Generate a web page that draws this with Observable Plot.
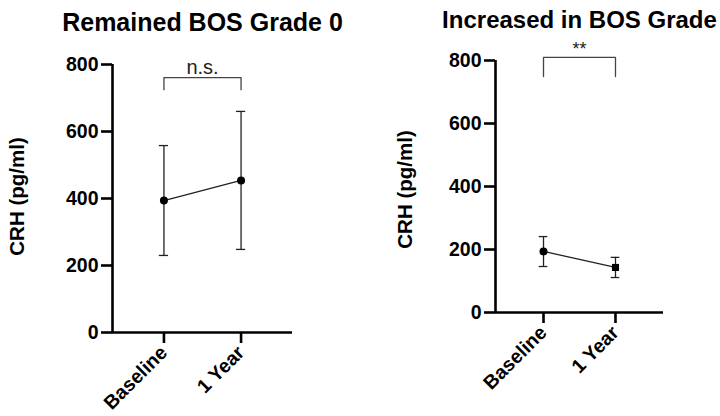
<!DOCTYPE html>
<html>
<head>
<meta charset="utf-8">
<script src="https://cdn.jsdelivr.net/npm/d3@7"></script>
<script src="https://cdn.jsdelivr.net/npm/@observablehq/plot@0.6"></script>
<style>
  html, body { margin: 0; padding: 0; background: #fff; }
  #wrap { position: relative; width: 720px; height: 416px; overflow: hidden; }
  .panel { position: absolute; top: 0; }
</style>
</head>
<body>
<div id="wrap">
  <div class="panel" id="left" style="left:0"></div>
  <div class="panel" id="right" style="left:360px"></div>
</div>
<script>
const categories = ["Baseline", "1 Year"];
const yTicks = [0, 200, 400, 600, 800];

const leftTitle = "Remained BOS Grade 0";
const leftMean = [394, 454];
const leftUpper = [558, 660];
const leftLower = [230, 248];
const leftSig = "n.s.";

const rightTitle = "Increased in BOS Grade";
const rightMean = [194, 143];
const rightUpper = [241, 175];
const rightLower = [146, 111];
const rightSig = "**";

const yLabel = "CRH (pg/ml)";
const FONT = "'Liberation Sans', Arial, Helvetica, sans-serif";

function panel(opts) {
  const rows = categories.map((c, i) => ({
    i, cat: c, mean: opts.mean[i], lo: opts.lower[i], hi: opts.upper[i]
  }));
  const pad = 0.667;
  const xDomain = [-pad, categories.length - 1 + pad];
  const cap = 0.06;
  const br = opts.bracket; // [legBottom, top, textY]
  const bracketPts = [
    {i: 0, y: br[0]}, {i: 0, y: br[1]},
    {i: categories.length - 1, y: br[1]}, {i: categories.length - 1, y: br[0]}
  ];
  return Plot.plot({
    width: 360,
    height: 416,
    marginLeft: opts.ml,
    marginRight: opts.mr,
    marginTop: opts.mt,
    marginBottom: opts.mb,
    style: {fontFamily: FONT, fontWeight: "bold", color: "#000", background: "#fff", overflow: "visible"},
    x: {type: "linear", domain: xDomain},
    y: {domain: [0, 800]},
    marks: [
      // error bars
      Plot.ruleX(rows, {x: "i", y1: "lo", y2: "hi", stroke: "#222", strokeWidth: 1.3}),
      Plot.ruleY(rows, {y: "hi", x1: d => d.i - cap, x2: d => d.i + cap, stroke: "#222", strokeWidth: 1.3}),
      Plot.ruleY(rows, {y: "lo", x1: d => d.i - cap, x2: d => d.i + cap, stroke: "#222", strokeWidth: 1.3}),
      Plot.line(rows, {x: "i", y: "mean", stroke: "#222", strokeWidth: 1.3}),
      Plot.dot(rows.filter(d => d.i === 0), {x: "i", y: "mean", r: 4, fill: "#000", stroke: "none", symbol: "circle"}),
      Plot.dot(rows.filter(d => d.i === 1), {x: "i", y: "mean", r: 4, fill: "#000", stroke: "none", symbol: opts.secondSymbol}),
      // significance bracket
      Plot.line(bracketPts, {x: "i", y: "y", stroke: "#444", strokeWidth: 1.3}),
      Plot.text([opts.sig], {x: (categories.length - 1) / 2, y: br[2], text: d => d, fontSize: opts.sigSize, fontWeight: "normal", fill: "#222"}),
      // axes
      Plot.ruleX([xDomain[0]], {stroke: "#000", strokeWidth: 2.6}),
      Plot.ruleY([0], {stroke: "#000", strokeWidth: 2.6}),
      Plot.axisY({ticks: yTicks, tickSize: 11, tickPadding: 3, strokeWidth: 2.6, fontSize: 19.5, label: null, tickFormat: d => String(d)}),
      Plot.axisX({ticks: d3.range(categories.length), tickFormat: i => categories[i], tickSize: 11, tickPadding: 6, tickRotate: -45, strokeWidth: 2.6, fontSize: 19.5, label: null}),
      // title and y label
      Plot.text([opts.title], {frameAnchor: "top", dy: opts.titleDy, text: d => d, fontSize: opts.titleSize, fontWeight: "bold", fill: "#000"}),
      Plot.text([yLabel], {frameAnchor: "left", dx: opts.labelDx, dy: opts.labelDy, rotate: -90, textAnchor: "middle", text: d => d, fontSize: 20.5, fontWeight: "bold", fill: "#000"})
    ]
  });
}

document.getElementById("left").appendChild(panel({
  title: leftTitle, mean: leftMean, upper: leftUpper, lower: leftLower, sig: leftSig,
  ml: 112, mr: 68, mt: 64, mb: 84, titleDy: -51, labelDx: -95, labelDy: -2, titleSize: 25, sigSize: 20,
  bracket: [725, 761, 790], secondSymbol: "circle"
}));
document.getElementById("right").appendChild(panel({
  title: rightTitle, mean: rightMean, upper: rightUpper, lower: rightLower, sig: rightSig,
  ml: 135, mr: 57, mt: 60, mb: 104, titleDy: -50, labelDx: -90, labelDy: 3, titleSize: 24, sigSize: 18,
  bracket: [749, 810, 835], secondSymbol: "square"
}));
</script>
</body>
</html>
